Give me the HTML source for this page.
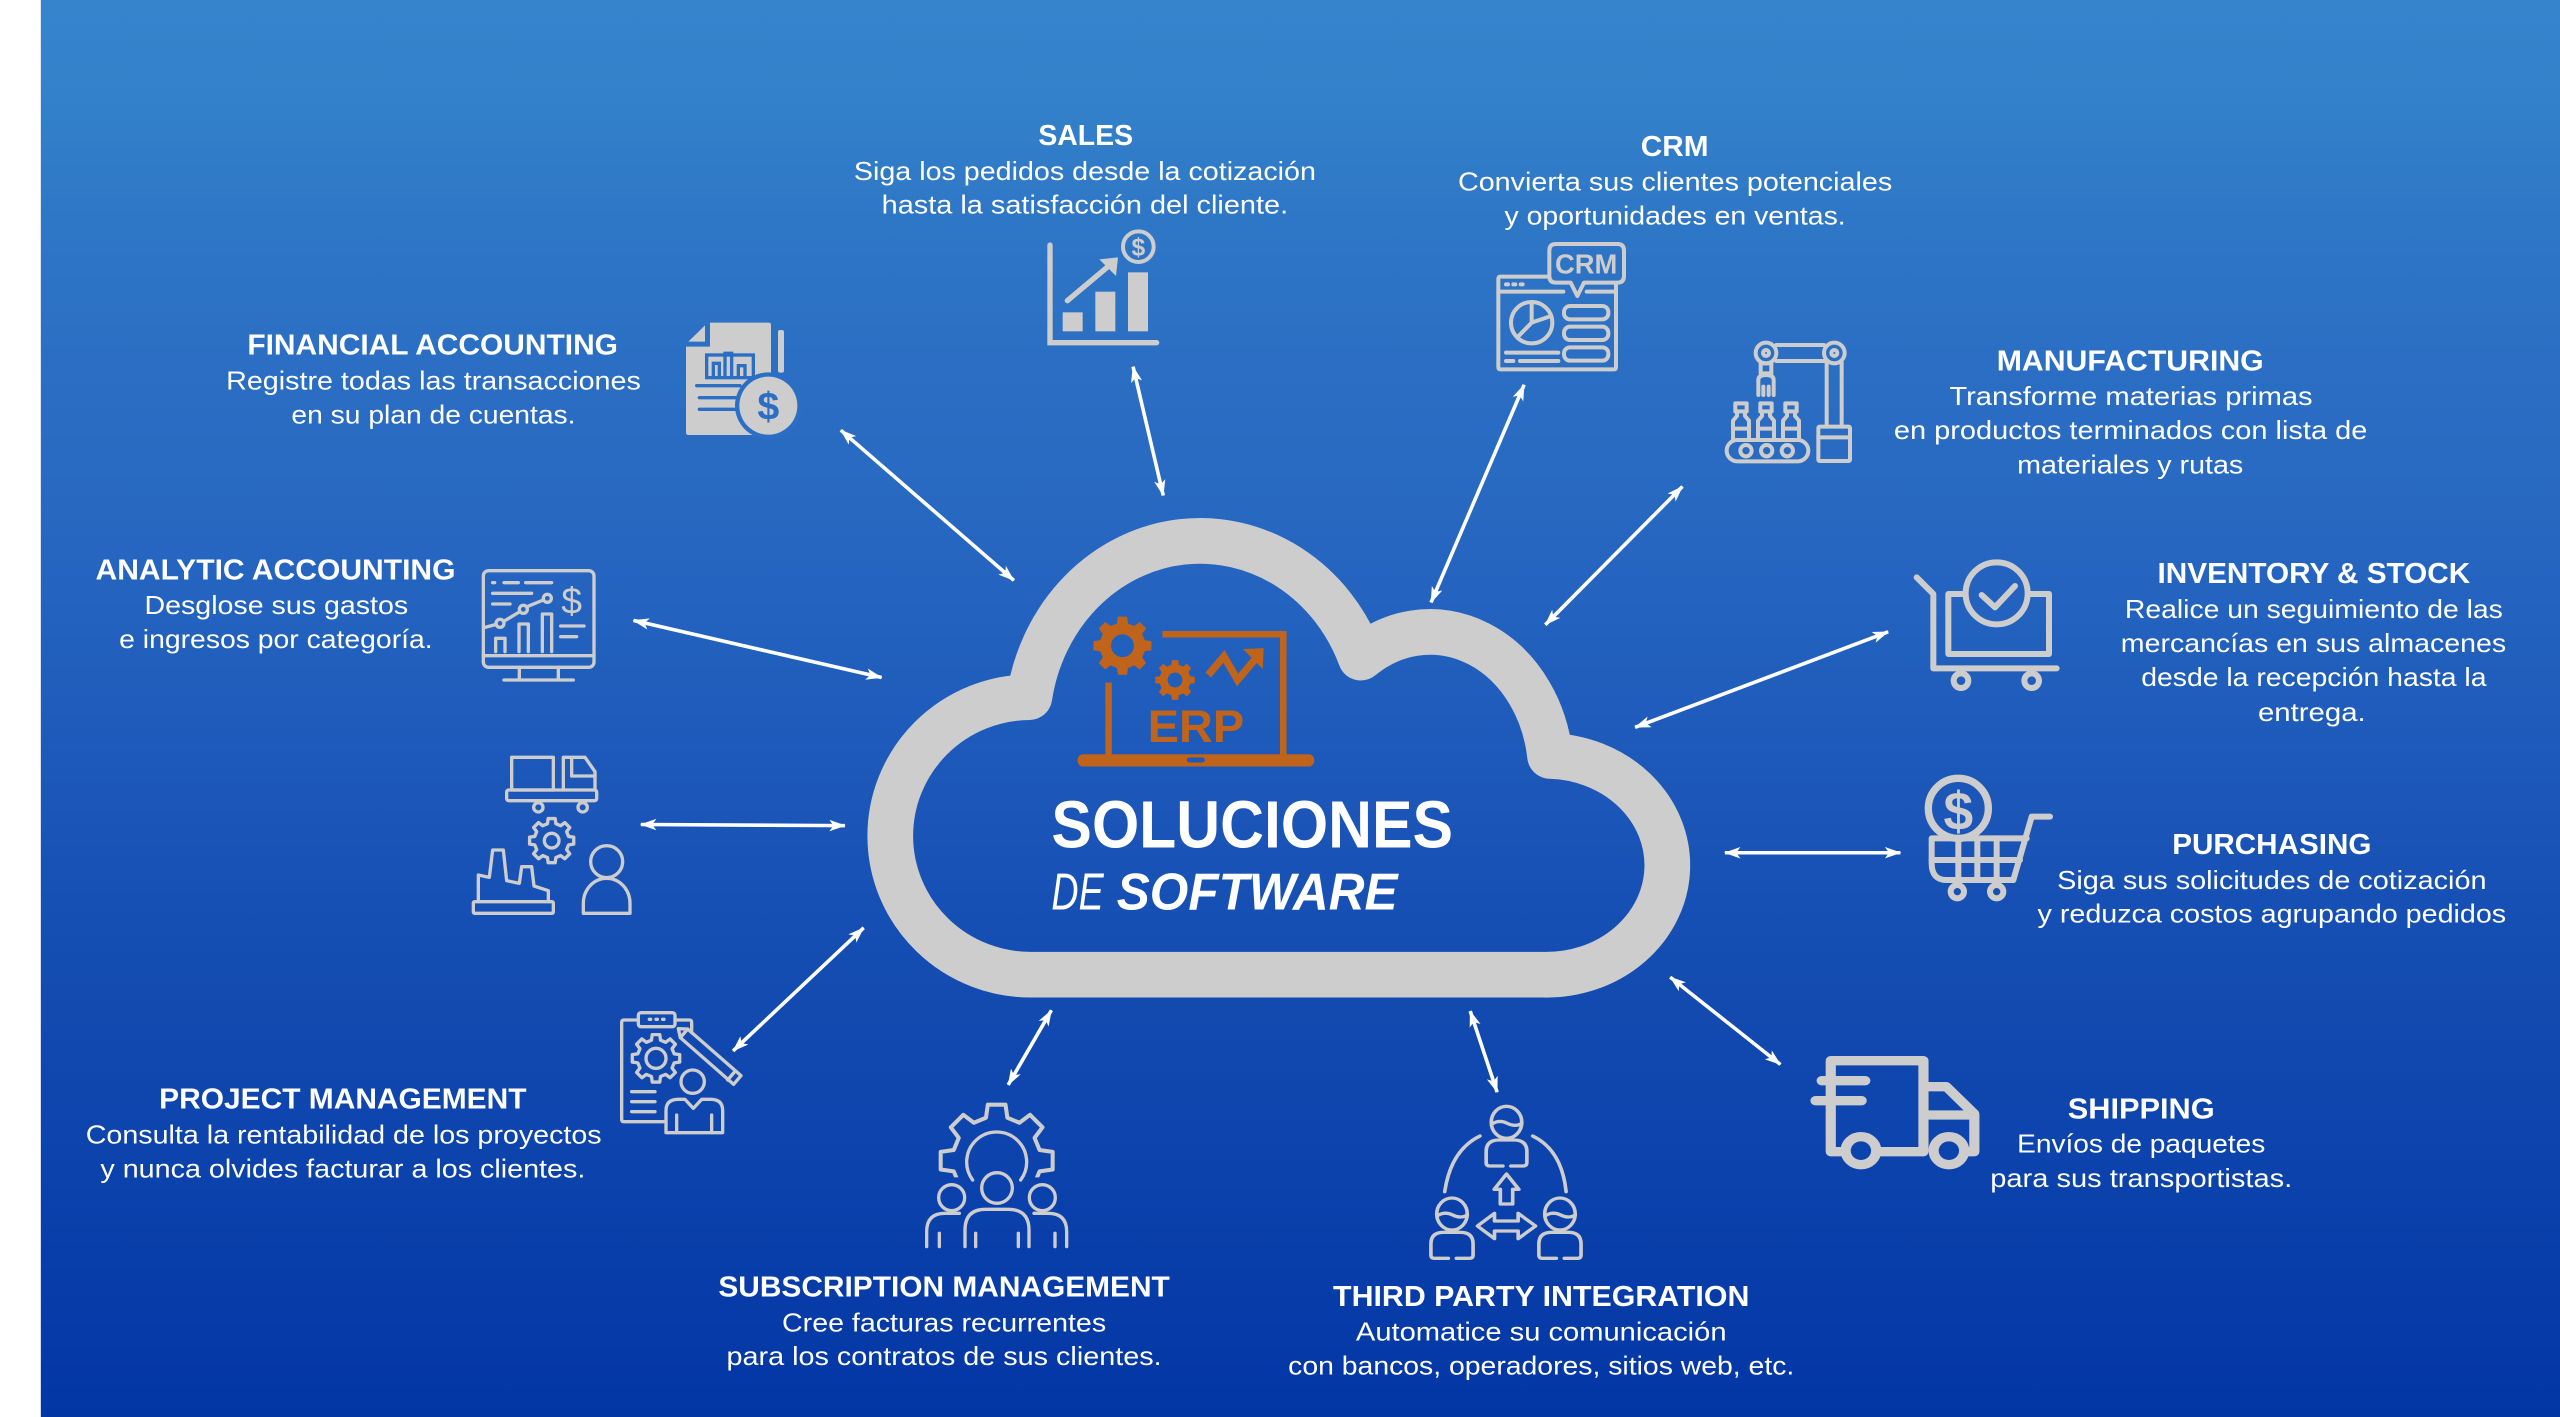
<!DOCTYPE html>
<html><head><meta charset="utf-8">
<style>
html,body{margin:0;padding:0;background:#fff;}
svg{display:block;}
text{font-family:"Liberation Sans",Arial,sans-serif;}
.t{font-weight:bold;font-size:17.5px;fill:#fff;}
.b{font-size:16px;fill:#fff;}
</style></head><body>
<svg width="2560" height="1417" viewBox="0 0 2560 1417" xmlns="http://www.w3.org/2000/svg">
<defs>
<linearGradient id="bg" x1="0" y1="0" x2="0" y2="868" gradientUnits="userSpaceOnUse">
 <stop offset="0" stop-color="#3584CC"/>
 <stop offset="0.07" stop-color="#3381CA"/>
 <stop offset="0.16" stop-color="#2E76C6"/>
 <stop offset="0.25" stop-color="#2B6FC4"/>
 <stop offset="0.33" stop-color="#296AC2"/>
 <stop offset="0.40" stop-color="#2565C0"/>
 <stop offset="0.5" stop-color="#1F5CBB"/>
 <stop offset="0.6" stop-color="#1953B6"/>
 <stop offset="0.7" stop-color="#134BB1"/>
 <stop offset="0.8" stop-color="#0D44AD"/>
 <stop offset="0.9" stop-color="#083DA9"/>
 <stop offset="1" stop-color="#0336A5"/>
</linearGradient>
<marker id="ah" viewBox="0 0 10 7" refX="9.5" refY="3.5" markerWidth="10" markerHeight="7" orient="auto-start-reverse" markerUnits="userSpaceOnUse">
 <path d="M0,0 L10,3.5 L0,7 L2.5,3.5 Z" fill="#fff"/>
</marker>
<path id="gear" d="M0.757,-0.189 L0.988,-0.156 L0.988,0.156 L0.757,0.189 L0.669,0.402 L0.809,0.588 L0.588,0.809 L0.402,0.669 L0.189,0.757 L0.156,0.988 L-0.156,0.988 L-0.189,0.757 L-0.402,0.669 L-0.588,0.809 L-0.809,0.588 L-0.669,0.402 L-0.757,0.189 L-0.988,0.156 L-0.988,-0.156 L-0.757,-0.189 L-0.669,-0.402 L-0.809,-0.588 L-0.588,-0.809 L-0.402,-0.669 L-0.189,-0.757 L-0.156,-0.988 L0.156,-0.988 L0.189,-0.757 L0.402,-0.669 L0.588,-0.809 L0.809,-0.588 L0.669,-0.402 Z"/>
<clipPath id="subclip" clipPathUnits="userSpaceOnUse"><rect x="900" y="250" width="520" height="282"/></clipPath>
</defs>

<g transform="scale(1.632653)">
 <rect x="0" y="0" width="1568" height="868" fill="#fff"/>
 <rect x="25" y="0" width="1543" height="868" fill="url(#bg)"/>

 <!-- cloud -->
 <path d="M632,597 A86,85 0 0 1 630.5,427 A106,114 0 0 1 833.5,402.8 A74,87 0 0 1 949.4,463 A74,67 0 0 1 945,597 Z" fill="none" stroke="#CDCDCD" stroke-width="28" stroke-linejoin="round"/>

 <!-- ERP logo -->
 <g fill="#C0631B">
  <use href="#gear" transform="translate(687.5,395.5) scale(18)"/>
  <use href="#gear" transform="translate(719.7,416.5) scale(12.3)"/>
  <rect x="660" y="462" width="145" height="7.5" rx="3.5"/>
  <path d="M761.3,397.5 L774,397 L773.4,409.8 Z"/>
 </g>
 <circle cx="687.5" cy="395.5" r="7" fill="url(#bg)"/>
 <circle cx="719.7" cy="416.5" r="4.5" fill="url(#bg)"/>
 <rect x="727" y="464" width="11" height="3" rx="1.5" fill="url(#bg)"/>
 <path d="M712,388.5 L786,388.5 L786,463 M679,418 L679,463" stroke="#C0631B" stroke-width="4" fill="none"/>
 <polyline points="740,413.4 749.7,402 758,416.5 769,403.5" stroke="#C0631B" stroke-width="4.5" fill="none" stroke-linejoin="miter"/>
 <text x="703" y="454.6" font-size="28" font-weight="bold" fill="#C0631B" textLength="59" lengthAdjust="spacingAndGlyphs">ERP</text>

 <text x="644" y="519" font-size="41" font-weight="bold" fill="#fff" textLength="246" lengthAdjust="spacingAndGlyphs">SOLUCIONES</text>
 <text x="644" y="557" font-size="32" font-style="italic" fill="#fff" textLength="32" lengthAdjust="spacingAndGlyphs">DE</text>
 <text x="684" y="557" font-size="32" font-style="italic" font-weight="bold" fill="#fff" textLength="172" lengthAdjust="spacingAndGlyphs">SOFTWARE</text>

 <!-- arrows -->
 <g stroke="#fff" stroke-width="2.2" fill="none" marker-start="url(#ah)" marker-end="url(#ah)">
  <line x1="515" y1="263.5" x2="621" y2="355.5"/>
  <line x1="694" y1="224.6" x2="712.5" y2="303.5"/>
  <line x1="933.5" y1="235.7" x2="876.5" y2="369"/>
  <line x1="1030.5" y1="298" x2="946.5" y2="382.7"/>
  <line x1="388" y1="380" x2="540" y2="415"/>
  <line x1="1156.5" y1="387" x2="1001.5" y2="445.5"/>
  <line x1="392.5" y1="505" x2="517.5" y2="505.7"/>
  <line x1="1056.5" y1="522.3" x2="1164" y2="522.3"/>
  <line x1="449" y1="643.7" x2="529" y2="568.3"/>
  <line x1="1023" y1="598.5" x2="1090.5" y2="652"/>
  <line x1="617.5" y1="664.5" x2="644" y2="618.8"/>
  <line x1="900.5" y1="619.3" x2="917" y2="669"/>
 </g>

 <!-- texts -->
 <g lengthAdjust="spacingAndGlyphs">
 <text class="t" x="636" y="88.7" textLength="58" lengthAdjust="spacingAndGlyphs">SALES</text>
 <text class="b" x="523" y="110.4" textLength="283" lengthAdjust="spacingAndGlyphs">Siga los pedidos desde la cotización</text>
 <text class="b" x="540" y="130.8" textLength="249" lengthAdjust="spacingAndGlyphs">hasta la satisfacción del cliente.</text>

 <text class="t" x="1005" y="95.7" textLength="41.5" lengthAdjust="spacingAndGlyphs">CRM</text>
 <text class="b" x="893" y="116.8" textLength="266" lengthAdjust="spacingAndGlyphs">Convierta sus clientes potenciales</text>
 <text class="b" x="921.5" y="137.5" textLength="209" lengthAdjust="spacingAndGlyphs">y oportunidades en ventas.</text>

 <text class="t" x="151.5" y="217" textLength="227" lengthAdjust="spacingAndGlyphs">FINANCIAL ACCOUNTING</text>
 <text class="b" x="138.5" y="238.5" textLength="254" lengthAdjust="spacingAndGlyphs">Registre todas las transacciones</text>
 <text class="b" x="178.5" y="259.5" textLength="174" lengthAdjust="spacingAndGlyphs">en su plan de cuentas.</text>

 <text class="t" x="1223" y="226.8" textLength="163.5" lengthAdjust="spacingAndGlyphs">MANUFACTURING</text>
 <text class="b" x="1194" y="248.2" textLength="222.5" lengthAdjust="spacingAndGlyphs">Transforme materias primas</text>
 <text class="b" x="1160" y="269" textLength="290" lengthAdjust="spacingAndGlyphs">en productos terminados con lista de</text>
 <text class="b" x="1235.5" y="290" textLength="138.5" lengthAdjust="spacingAndGlyphs">materiales y rutas</text>

 <text class="t" x="58.5" y="355" textLength="220.5" lengthAdjust="spacingAndGlyphs">ANALYTIC ACCOUNTING</text>
 <text class="b" x="88.5" y="376" textLength="161.5" lengthAdjust="spacingAndGlyphs">Desglose sus gastos</text>
 <text class="b" x="73" y="397" textLength="192" lengthAdjust="spacingAndGlyphs">e ingresos por categoría.</text>

 <text class="t" x="1321.5" y="357.2" textLength="191.5" lengthAdjust="spacingAndGlyphs">INVENTORY &amp; STOCK</text>
 <text class="b" x="1301.5" y="378.5" textLength="231.5" lengthAdjust="spacingAndGlyphs">Realice un seguimiento de las</text>
 <text class="b" x="1299" y="399.5" textLength="236" lengthAdjust="spacingAndGlyphs">mercancías en sus almacenes</text>
 <text class="b" x="1311.5" y="420.3" textLength="211.5" lengthAdjust="spacingAndGlyphs">desde la recepción hasta la</text>
 <text class="b" x="1383" y="441.5" textLength="66" lengthAdjust="spacingAndGlyphs">entrega.</text>

 <text class="t" x="1330.5" y="523" textLength="122" lengthAdjust="spacingAndGlyphs">PURCHASING</text>
 <text class="b" x="1260" y="544.5" textLength="263" lengthAdjust="spacingAndGlyphs">Siga sus solicitudes de cotización</text>
 <text class="b" x="1248" y="565" textLength="287" lengthAdjust="spacingAndGlyphs">y reduzca costos agrupando pedidos</text>

 <text class="t" x="97.5" y="679" textLength="225" lengthAdjust="spacingAndGlyphs">PROJECT MANAGEMENT</text>
 <text class="b" x="52.5" y="700.5" textLength="316" lengthAdjust="spacingAndGlyphs">Consulta la rentabilidad de los proyectos</text>
 <text class="b" x="61.5" y="721.3" textLength="297" lengthAdjust="spacingAndGlyphs">y nunca olvides facturar a los clientes.</text>

 <text class="t" x="1266.5" y="685" textLength="90" lengthAdjust="spacingAndGlyphs">SHIPPING</text>
 <text class="b" x="1235.5" y="706" textLength="152" lengthAdjust="spacingAndGlyphs">Envíos de paquetes</text>
 <text class="b" x="1219" y="727" textLength="185" lengthAdjust="spacingAndGlyphs">para sus transportistas.</text>

 <text class="t" x="440" y="794" textLength="276.5" lengthAdjust="spacingAndGlyphs">SUBSCRIPTION MANAGEMENT</text>
 <text class="b" x="479" y="815.5" textLength="198.5" lengthAdjust="spacingAndGlyphs">Cree facturas recurrentes</text>
 <text class="b" x="445" y="836" textLength="266.5" lengthAdjust="spacingAndGlyphs">para los contratos de sus clientes.</text>

 <text class="t" x="816.5" y="800" textLength="255" lengthAdjust="spacingAndGlyphs">THIRD PARTY INTEGRATION</text>
 <text class="b" x="830.5" y="821" textLength="227" lengthAdjust="spacingAndGlyphs">Automatice su comunicación</text>
 <text class="b" x="789" y="842" textLength="310" lengthAdjust="spacingAndGlyphs">con bancos, operadores, sitios web, etc.</text>
 </g>
</g>

<!-- Financial + Sales icons -->
<g transform="translate(660,220) scale(0.333333)">
 <g fill="#CDCDCD">
  <path d="M85,365 L135,316 L135,365 Z"/>
  <path d="M150,308 L326,308 Q333,308 333,315 L333,645 L86,645 Q78,645 78,637 L78,380 L150,380 Z"/>
  <rect x="354" y="330" width="18" height="128" rx="6"/>
 </g>
 <g stroke="#2B6FC4" stroke-width="10" fill="none" stroke-linecap="round">
  <rect x="140" y="405" width="140" height="68"/>
  <path d="M160,470 L160,430 L178,430 L178,470 M195,470 L195,400 L215,400 L215,470 M235,470 L235,437 L255,437 L255,470"/>
  <path d="M110,497 L240,497 M118,533 L240,533 M118,568 L240,568"/>
 </g>
 <circle cx="325" cy="557" r="100" fill="#2B6FC4"/>
 <circle cx="325" cy="557" r="87" fill="#CDCDCD"/>
 <text x="325" y="598" font-size="118" font-weight="bold" fill="#2B6FC4" text-anchor="middle">$</text>

 <g stroke="#CDCDCD" stroke-width="16" stroke-linecap="round" fill="none">
  <path d="M1170,75 L1170,368 L1490,368"/>
  <path d="M1222,242 L1340,143"/>
  <circle cx="1435" cy="80" r="46" stroke-width="12"/>
 </g>
 <path d="M1318,118 L1374,112 L1368,168 Z" fill="#CDCDCD"/>
 <rect x="1208" y="277" width="60" height="57" fill="#CDCDCD"/>
 <rect x="1306" y="215" width="60" height="119" fill="#CDCDCD"/>
 <rect x="1404" y="157" width="60" height="177" fill="#CDCDCD"/>
 <text x="1435" y="107" font-size="74" font-weight="bold" fill="#CDCDCD" text-anchor="middle">$</text>
</g>

<!-- CRM + Manufacturing icons -->
<g transform="translate(1480,230) scale(0.333333)">
 <g stroke="#CDCDCD" stroke-width="12" fill="none" stroke-linecap="round" stroke-linejoin="round">
  <path d="M205,140 L62,140 Q55,140 55,147 L55,411 Q55,418 62,418 L401,418 Q408,418 408,411 L408,162"/>
  <path d="M55,185 L250,185 M320,185 L408,185"/>
  <path d="M232,158 L228,158 Q208,158 208,138 L208,62 Q208,42 228,42 L412,42 Q432,42 432,62 L432,138 Q432,158 412,158 L312,158 L292,198 L272,158 Z"/>
  <path d="M78,163 L84,163 M100,163 L106,163 M122,163 L128,163"/>
  <circle cx="155" cy="278" r="62"/>
  <path d="M155,278 L155,216 M155,278 L213,258 M155,278 L112,322"/>
  <rect x="252" y="228" width="133" height="40" rx="18"/>
  <rect x="252" y="290" width="133" height="40" rx="18"/>
  <rect x="252" y="352" width="133" height="40" rx="18"/>
  <path d="M78,368 L235,368 M78,393 L100,393 M120,393 L235,393"/>
 </g>
 <text x="225" y="131" font-size="84" font-weight="bold" fill="#CDCDCD" textLength="187" lengthAdjust="spacingAndGlyphs">CRM</text>

 <g stroke="#CDCDCD" stroke-width="12" fill="none" stroke-linecap="round" stroke-linejoin="round">
  <circle cx="858" cy="369" r="31"/>
  <circle cx="858" cy="369" r="9"/>
  <circle cx="1063" cy="369" r="31"/>
  <circle cx="1063" cy="369" r="9"/>
  <path d="M889,345 L1032,345 M889,393 L1032,393"/>
  <path d="M1040,398 L1040,590 M1085,398 L1085,590"/>
  <rect x="1015" y="590" width="95" height="103" rx="4"/>
  <path d="M1015,622 L1110,622"/>
  <rect x="842" y="400" width="32" height="30"/>
  <path d="M835,495 L835,450 Q835,435 858,435 Q881,435 881,450 L881,495 M850,495 L850,470 M866,495 L866,470"/>
  <rect x="766" y="520" width="34" height="24"/>
  <path d="M771,544 L771,558 L759,572 L759,630 M795,544 L795,558 L807,572 L807,630 M759,596 L807,596"/>
  <rect x="841" y="520" width="34" height="24"/>
  <path d="M846,544 L846,558 L834,572 L834,630 M870,544 L870,558 L882,572 L882,630 M834,596 L882,596"/>
  <rect x="916" y="520" width="34" height="24"/>
  <path d="M921,544 L921,558 L909,572 L909,630 M945,544 L945,558 L957,572 L957,630 M909,596 L957,596"/>
  <rect x="740" y="630" width="245" height="64" rx="32"/>
  <circle cx="798" cy="662" r="17"/>
  <circle cx="860" cy="662" r="17"/>
  <circle cx="922" cy="662" r="17"/>
 </g>
</g>

<!-- Analytic + left-middle icons -->
<g transform="translate(460,560) scale(0.333333)">
 <g stroke="#CDCDCD" stroke-width="10" fill="none" stroke-linecap="round" stroke-linejoin="round">
  <rect x="70" y="32" width="332" height="290" rx="16"/>
  <path d="M70,287 L402,287"/>
  <path d="M178,322 L178,358 M295,322 L295,358 M132,360 L340,360"/>
  <path d="M98,68 L104,68 M132,68 L175,68 M197,68 L275,68 M98,100 L215,100 M98,132 L150,132"/>
  <path d="M75,202 L109,193 M131,184 L178,156 M201,140 L250,120"/>
  <circle cx="120" cy="190" r="12"/><circle cx="190" cy="148" r="12"/><circle cx="262" cy="115" r="12"/>
  <path d="M107,275 L107,235 L135,235 L135,275 M177,275 L177,192 L205,192 L205,275 M247,275 L247,162 L275,162 L275,275"/>
  <path d="M302,198 L372,198 M302,230 L350,230"/>

  <rect x="155" y="592" width="125" height="98"/>
  <path d="M310,690 L310,592 L375,592 L405,635 L405,690"/>
  <path d="M335,596 L335,648 L405,648"/>
  <rect x="140" y="690" width="270" height="32" rx="6"/>
  <circle cx="235" cy="742" r="14"/><circle cx="368" cy="742" r="14"/>
  <use href="#gear" transform="translate(275,842) scale(67)" stroke-width="0.15"/>
  <circle cx="275" cy="842" r="22"/>
  <path d="M55,1025 L55,945 L88,952 L98,870 L130,870 L140,962 L178,970 L185,920 L215,920 L222,978 L265,992 L265,1025"/>
  <rect x="40" y="1025" width="240" height="35" rx="4"/>
  <circle cx="440" cy="905" r="48"/>
  <path d="M370,1060 L370,1030 A70,75 0 0 1 510,1030 L510,1060 Z"/>
 </g>
 <text x="335" y="160" font-size="112" fill="#CDCDCD" text-anchor="middle">$</text>
</g>

<!-- Inventory + Purchasing icons -->
<g transform="translate(1900,550) scale(0.333333)">
 <g stroke="#CDCDCD" stroke-width="18" fill="none" stroke-linecap="round" stroke-linejoin="round">
  <path d="M50,82 L100,132 L100,355 L470,355"/>
  <rect x="145" y="132" width="302" height="180"/>
  <circle cx="290" cy="130" r="93" fill="#2363BF"/>
  <path d="M245,135 L285,172 L345,108"/>
  <circle cx="183" cy="392" r="22"/><circle cx="395" cy="392" r="22"/>

  <path d="M450,800 L395,800 L340,990 L140,990 Q95,990 95,940 L95,865 L380,865"/>
  <path d="M95,930 L360,930 M175,865 L175,990 M232,865 L232,990 M290,865 L290,990"/>
  <circle cx="172" cy="1025" r="20"/><circle cx="290" cy="1025" r="20"/>
  <circle cx="175" cy="775" r="90" fill="#1B56B8" stroke-width="22"/>
 </g>
 <text x="175" y="838" font-size="160" font-weight="bold" fill="#CDCDCD" text-anchor="middle">$</text>
</g>

<!-- Project + Subscription icons -->
<g transform="translate(610,1000) scale(0.333333)">
 <g stroke="#CDCDCD" stroke-width="10" fill="none" stroke-linecap="round" stroke-linejoin="round">
  <path d="M160,365 L42,365 Q35,365 35,358 L35,67 Q35,60 42,60 L85,60 M195,60 L238,60 Q245,60 245,67 L245,98"/>
  <rect x="85" y="38" width="110" height="42" rx="8"/>
  <path d="M118,58 L122,58 M138,58 L142,58 M158,58 L162,58"/>
  <use href="#gear" transform="translate(138,175) scale(72)" stroke-width="0.139"/>
  <circle cx="138" cy="175" r="30"/>
  <path d="M233,87 L393,227 L371,253 L211,113 Z M211,113 L205,86 L233,87 M375,214 L353,240"/>
  <path d="M65,275 L135,275 M65,305 L135,305 M65,335 L135,335"/>
  <circle cx="248" cy="245" r="35"/>
  <path d="M168,398 L168,332 Q168,298 205,298 L225,298 L250,325 L275,298 L302,298 Q338,298 338,332 L338,398 Z"/>
  <path d="M200,345 L200,398 M305,345 L305,398"/>

  <g clip-path="url(#subclip)">
   <use href="#gear" transform="translate(1160,482) scale(170)" stroke-width="0.071"/>
  </g>
  <path d="M1088,540 A90,90 0 1 1 1232,540"/>
  <circle cx="1161" cy="564" r="46"/>
  <circle cx="1025" cy="593" r="39"/>
  <circle cx="1297" cy="593" r="39"/>
  <path d="M1065,740 L1065,690 Q1065,628 1127,628 L1195,628 Q1257,628 1257,690 L1257,740"/>
  <path d="M950,740 L950,695 Q950,640 1005,640 L1048,640"/>
  <path d="M1370,740 L1370,695 Q1370,640 1315,640 L1272,640"/>
  <path d="M988,700 L988,740 M1097,700 L1097,740 M1225,700 L1225,740 M1335,700 L1335,740"/>
 </g>
</g>

<!-- Third party + Shipping icons -->
<g transform="translate(1420,1040) scale(0.363504,0.333333)">
 <g stroke="#CDCDCD" stroke-width="10" fill="none" stroke-linecap="round" stroke-linejoin="round">
  <ellipse cx="238" cy="247" rx="42" ry="48"/>
  <path d="M198,252 Q218,238 240,250 Q262,262 280,250"/>
  <path d="M228,378 L192,378 Q182,378 182,368 L182,335 Q182,300 217,300 L259,300 Q294,300 294,335 L294,368 Q294,378 284,378 L250,378"/>
  <ellipse cx="88" cy="522" rx="42" ry="48"/>
  <path d="M48,527 Q68,513 90,525 Q112,537 130,525"/>
  <path d="M78,655 L40,655 Q30,655 30,645 L30,612 Q30,577 65,577 L111,577 Q146,577 146,612 L146,645 Q146,655 136,655 L100,655"/>
  <ellipse cx="385" cy="522" rx="42" ry="48"/>
  <path d="M345,527 Q365,513 387,525 Q409,537 427,525"/>
  <path d="M375,655 L337,655 Q327,655 327,645 L327,612 Q327,577 362,577 L408,577 Q443,577 443,612 L443,645 Q443,655 433,655 L397,655"/>
  <path d="M165,288 Q85,330 68,455 M310,288 Q390,330 402,455"/>
  <path d="M238,402 L272,448 L255,448 L255,492 L221,492 L221,448 L204,448 Z"/>
  <path d="M158,558 L205,520 L205,543 L270,543 L270,520 L318,558 L270,596 L270,573 L205,573 L205,596 Z"/>
 </g>
 <g stroke="#CDCDCD" stroke-width="28" fill="none" stroke-linecap="round" stroke-linejoin="round">
  <path d="M1165,335 L1130,335 L1130,62 L1385,62 L1385,335 L1262,335"/>
  <path d="M1385,140 L1448,140 L1525,222 L1525,335 L1505,335 M1385,225 L1525,225"/>
  <path d="M1105,122 L1225,122 M1088,182 L1215,182"/>
  <circle cx="1213" cy="332" r="42"/>
  <circle cx="1455" cy="332" r="42"/>
 </g>
</g>
</svg>
</body></html>
